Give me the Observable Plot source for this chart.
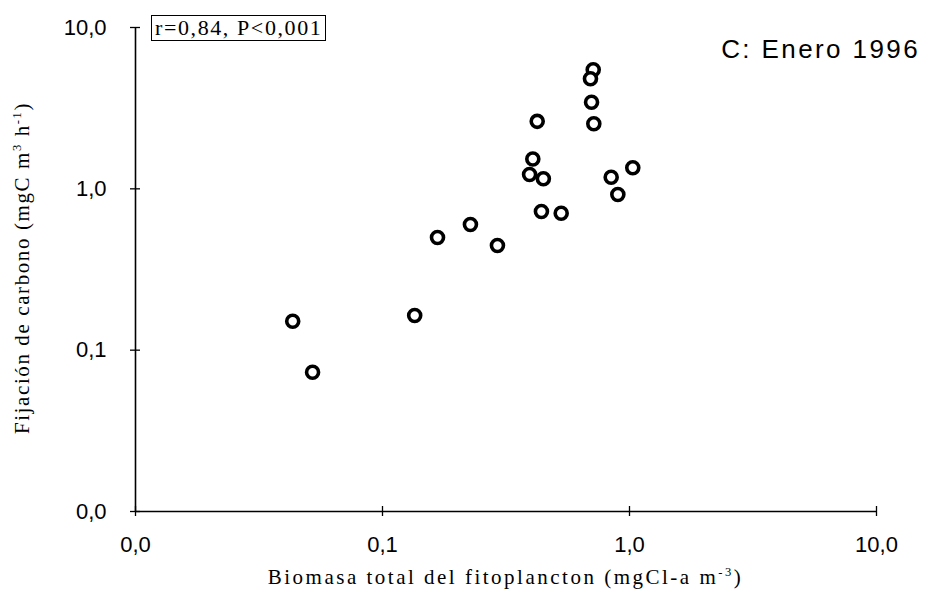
<!DOCTYPE html>
<html>
<head>
<meta charset="utf-8">
<script src="https://cdn.jsdelivr.net/npm/d3@7"></script>
<script src="https://cdn.jsdelivr.net/npm/@observablehq/plot@0.6"></script>
<style>
  html, body { margin: 0; padding: 0; background: #fff; }
  #wrap { position: relative; width: 931px; height: 606px; overflow: hidden; }
  #wrap svg { position: absolute; left: 0; top: 0; }
  .ann { position: absolute; font-family: "Liberation Serif", serif; color: #000; white-space: nowrap; }
  #stat { left: 151px; top: 15px; border: 1.5px solid #000; padding: 0 3px; font-size: 22px; letter-spacing: 1.6px; line-height: 24px; }
  #title { right: 11px; top: 34px; font-family: "Liberation Sans", Arial, sans-serif; font-size: 26px; letter-spacing: 2.4px; line-height: 30px; }
  #xlab { left: 135px; width: 741px; text-align: center; top: 565px; font-size: 21px; letter-spacing: 2.5px; }
  #ylab { left: 22px; top: 268px; font-size: 21px; letter-spacing: 1.6px; transform: translate(-50%, -50%) rotate(-90deg); }
</style>
</head>
<body>
<div id="wrap"></div>
<script>
// Biomasa total del fitoplancton (mgCl-a m-3)
const biomass = [0.0433, 0.0521, 0.135, 0.167, 0.227, 0.292, 0.423, 0.406, 0.394, 0.448, 0.440, 0.529, 0.713, 0.695, 0.702, 0.717, 0.843, 1.031, 0.897];
// Fijación de carbono (mgC m-3 h-1)
const fixation = [0.151, 0.073, 0.164, 0.499, 0.601, 0.445, 2.62, 1.53, 1.227, 1.154, 0.723, 0.706, 5.47, 4.81, 3.44, 2.53, 1.18, 1.35, 0.922];
const tickValues = [0.01, 0.1, 1, 10];
const tickLabels = ["0,0", "0,1", "1,0", "10,0"];

const points = biomass.map((b, i) => ({x: b, y: fixation[i]}));
const fmt = d => tickLabels[tickValues.indexOf(d)];

const chart = Plot.plot({
  width: 931,
  height: 606,
  marginLeft: 135,
  marginRight: 55,
  marginTop: 27,
  marginBottom: 95,
  style: {background: "#fff", color: "#000"},
  x: {type: "log", domain: [0.01, 10]},
  y: {type: "log", domain: [0.01, 10]},
  marks: [
    Plot.ruleY([0.01], {stroke: "#000", strokeWidth: 1.6}),
    Plot.ruleX([0.01], {stroke: "#000", strokeWidth: 1.6}),
    // tick marks crossing the axis lines
    Plot.ruleX(tickValues, {x: d => d, y1: 0.01, y2: 0.01, insetTop: -5, insetBottom: -5, stroke: "#000", strokeWidth: 1.3}),
    Plot.ruleY(tickValues, {y: d => d, x1: 0.01, x2: 0.01, insetLeft: -5, insetRight: -5, stroke: "#000", strokeWidth: 1.3}),
    Plot.axisX(tickValues, {tickSize: 0, tickPadding: 25, tickFormat: fmt, label: null,
      fontSize: 22, fontFamily: "Liberation Sans, Arial, sans-serif"}),
    Plot.axisY(tickValues, {tickSize: 0, tickPadding: 29, tickFormat: fmt, label: null,
      fontSize: 22, fontFamily: "Liberation Sans, Arial, sans-serif"}),
    Plot.dot(points, {x: "x", y: "y", r: 6, stroke: "#000", strokeWidth: 3.6, fill: "#fff"})
  ]
});

const wrap = document.getElementById("wrap");
wrap.appendChild(chart);

function addText(id, html) {
  const d = document.createElement("div");
  d.id = id;
  d.className = "ann";
  d.innerHTML = html;
  wrap.appendChild(d);
}
addText("stat", "r=0,84, P&lt;0,001");
addText("title", "C: Enero 1996");
addText("xlab", "Biomasa total del fitoplancton (mgCl-a m<sup style='font-size:0.6em'>-3</sup>)");
addText("ylab", "Fijación de carbono (mgC m<sup style='font-size:0.6em'>3</sup> h<sup style='font-size:0.6em'>-1</sup>)");
</script>
</body>
</html>
